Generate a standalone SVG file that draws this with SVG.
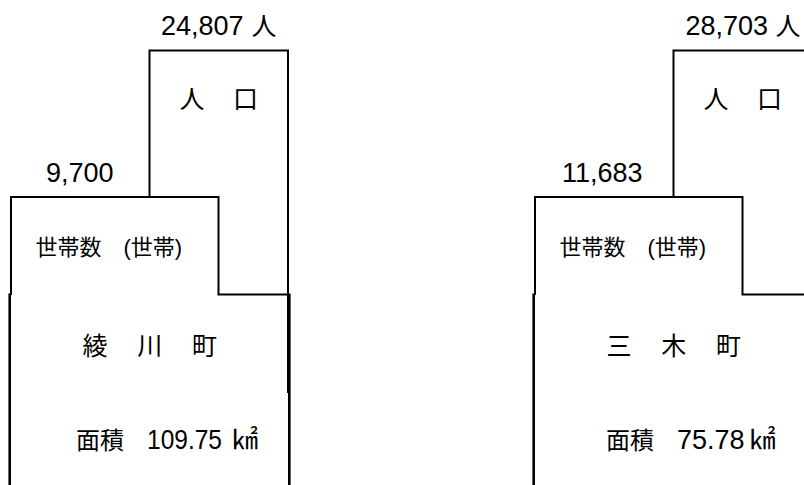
<svg xmlns="http://www.w3.org/2000/svg" width="804" height="485" viewBox="0 0 804 485">
<style>
  .ln { fill: none; stroke: #000; stroke-width: 2; stroke-linecap: square; }
  .lnw { fill: none; stroke: #000; stroke-width: 2.6; stroke-linecap: butt; }
  text { font-family: "Liberation Sans", "Noto Sans CJK JP", sans-serif; fill: #000; }
  .num { font-size: 27px; }
  .lbl { font-size: 25px; font-family: "Noto Sans CJK JP", sans-serif; }
  .sm { font-size: 22px; }
  .unit { font-size: 25px; }
  .km { font-size: 26px; font-family: "Noto Sans CJK JP", sans-serif; }
  .area { font-size: 24px; font-family: "Noto Sans CJK JP", sans-serif; }
</style>
<rect width="804" height="485" fill="#fff"/>
<g id="connectors">
  <path class="ln" d="M149.5,197 V50.5 H288 V392"/>
  <path class="ln" d="M11,294 V197 H218.5 V294.5 H288"/>
  <path class="lnw" d="M9.7,293.5 V485 M289.3,293.5 V485"/>
  <path class="ln" d="M673.5,197 V50.5 H806"/>
  <path class="ln" d="M535,294 V197 H742.5 V294.5 H806"/>
  <path class="lnw" d="M533.7,293.5 V485"/>
</g>
<g id="node-ayagawa">
  <text x="161" y="35"><tspan class="num">24,807</tspan><tspan class="unit" x="244.5"> 人</tspan></text>
  <text class="lbl" x="179.5" y="108" letter-spacing="1.8">人　口</text>
  <text class="num" x="46" y="181.7">9,700</text>
  <text class="sm" x="35.5" y="255">世帯数　(世帯)</text>
  <text class="lbl" x="82.5" y="355" letter-spacing="2.4">綾　川　町</text>
  <text y="449"><tspan class="area" x="76">面積　</tspan><tspan class="num" x="147" textLength="75" lengthAdjust="spacingAndGlyphs">109.75</tspan><tspan class="km" x="232">㎢</tspan></text>
</g>
<g id="node-miki">
  <text x="685.5" y="35"><tspan class="num">28,703</tspan><tspan class="unit" x="768.5"> 人</tspan></text>
  <text class="lbl" x="703.5" y="108" letter-spacing="1.8">人　口</text>
  <text class="num" x="562" y="181.7">11,683</text>
  <text class="sm" x="559.5" y="255">世帯数　(世帯)</text>
  <text class="lbl" x="606.5" y="355" letter-spacing="2.4">三　木　町</text>
  <text y="449"><tspan class="area" x="606">面積　</tspan><tspan class="num" x="677">75.78</tspan><tspan class="km" x="749.5">㎢</tspan></text>
</g>
</svg>
